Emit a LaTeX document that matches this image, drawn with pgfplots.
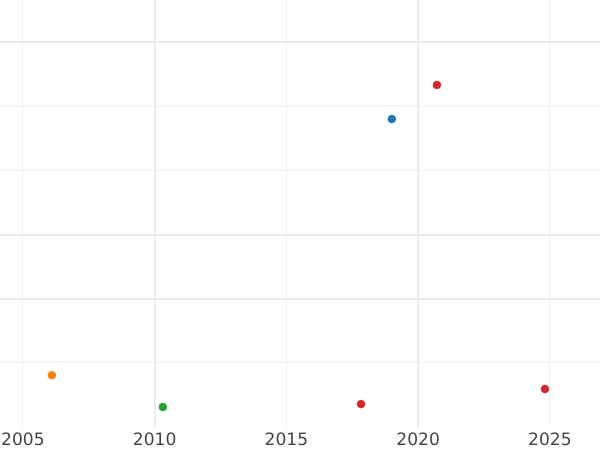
\documentclass[border=0pt]{standalone}
\usepackage{pgfplots}
\pgfplotsset{compat=1.18}
\usepackage{fontspec}
\setmainfont{DejaVu Sans}
\definecolor{gridc}{HTML}{EBEBEB}
\definecolor{gridm}{HTML}{F0F0F0}
\definecolor{tabblue}{HTML}{1F77B4}
\definecolor{taborange}{HTML}{FF7F0E}
\definecolor{tabgreen}{HTML}{2CA02C}
\definecolor{tabred}{HTML}{D62728}
\definecolor{labc}{HTML}{444444}
\begin{document}
\begin{tikzpicture}
\useasboundingbox (0,-17.25pt) rectangle (450pt,320.25pt);
\begin{axis}[
  at={(0,0)}, anchor=south west,
  scale only axis, width=450pt, height=320.25pt,
  xmin=2004.13, xmax=2026.9, ymin=-0.997, ymax=5.654,
  axis line style={draw=none},
  tick style={draw=none},
  xtick={2010,2020},
  extra x ticks={2005,2015,2025},
  extra x tick style={major grid style={gridm, line width=0.75pt}},
  xticklabel style={font=\fontsize{12.8}{14}\selectfont, text=labc, yshift=-1pt},
  /pgf/number format/assume math mode=true,
  /pgf/number format/1000 sep={},
  ytick={1,2,5},
  extra y ticks={0,3,4},
  extra y tick style={major grid style={gridm, line width=0.75pt}},
  yticklabels={}, extra y tick labels={},
  grid=major,
  major grid style={gridc, line width=1.5pt},
  clip=false,
]
\addplot[only marks, mark=*, mark size=3pt, color=taborange] coordinates {(2006.1,-0.19)};
\addplot[only marks, mark=*, mark size=3pt, color=tabgreen] coordinates {(2010.31,-0.685)};
\addplot[only marks, mark=*, mark size=3pt, color=tabblue] coordinates {(2019.0,3.80)};
\addplot[only marks, mark=*, mark size=3pt, color=tabred] coordinates {(2020.71,4.33) (2017.83,-0.64) (2024.81,-0.405)};
\end{axis}
\end{tikzpicture}
\end{document}
